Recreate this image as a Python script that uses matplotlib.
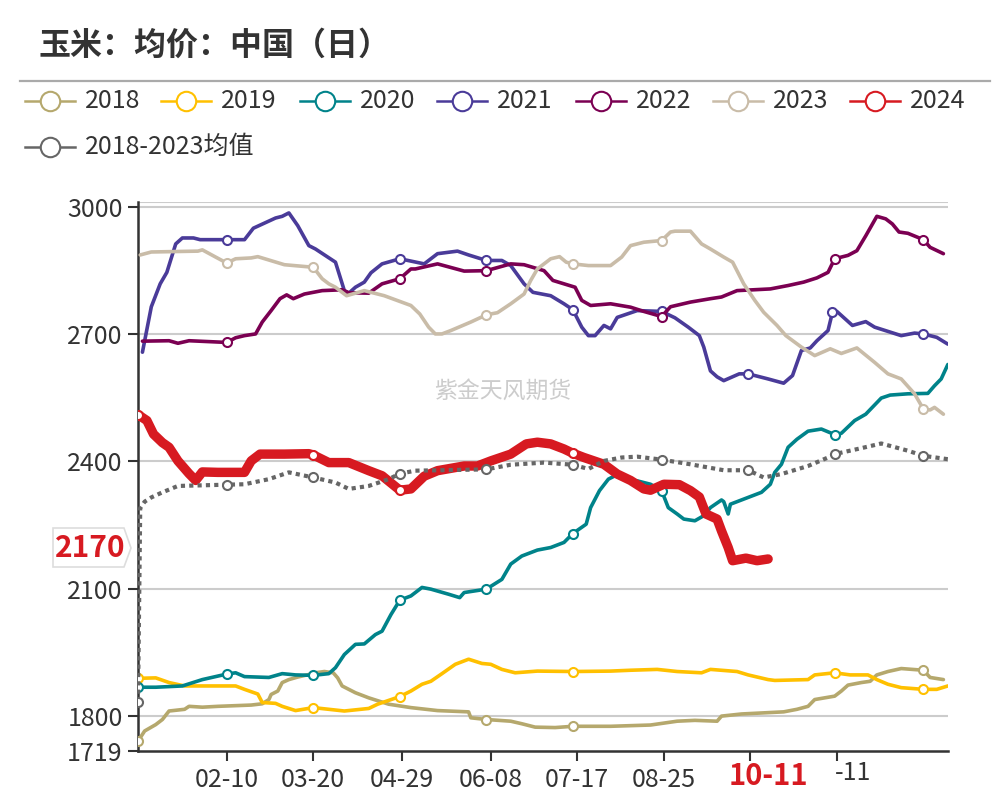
import matplotlib
matplotlib.use("Agg")
import matplotlib.pyplot as plt
import numpy as np
from matplotlib.lines import Line2D
from matplotlib.patches import Polygon
from matplotlib.transforms import blended_transform_factory

plt.rcParams['font.family'] = ['Noto Sans CJK SC', 'DejaVu Sans']

# 数据：横轴为当年1月1日起的天数
days18 = [0, 3, 8, 11, 14, 21, 23, 29, 36, 51, 56, 59, 60, 63, 65, 68, 72, 77, 80, 84, 88, 90, 92, 98, 104,
          113, 123, 135, 149, 150, 157, 168, 173, 179, 188, 196, 213, 231, 243, 251, 261, 263, 272, 291, 297,
          302, 305, 314, 317, 320, 326, 330, 333, 338, 344, 354, 357, 363]
vals18 = [1741, 1765, 1780, 1792, 1812, 1816, 1823, 1821, 1823, 1826, 1829, 1839, 1851, 1859, 1879, 1886, 1892,
          1898, 1902, 1905, 1902, 1890, 1871, 1855, 1843, 1828, 1820, 1813, 1810, 1796, 1792, 1788, 1782, 1774,
          1773, 1776, 1776, 1779, 1788, 1790, 1788, 1800, 1805, 1810, 1816, 1823, 1839, 1847, 1859, 1873, 1879,
          1882, 1897, 1905, 1912, 1908, 1891, 1886]

days19 = [0, 8, 14, 21, 44, 48, 54, 56, 62, 65, 71, 79, 86, 93, 104, 108, 118, 123, 128, 132, 137, 143, 149, 155,
          159, 164, 170, 180, 196, 213, 222, 234, 243, 254, 258, 270, 275, 284, 287, 302, 305, 314, 321, 329, 333,
          338, 344, 354, 360, 365]
vals19 = [1889, 1890, 1879, 1871, 1871, 1863, 1852, 1832, 1830, 1823, 1813, 1820, 1816, 1812, 1818, 1828, 1846,
          1859, 1875, 1882, 1900, 1922, 1934, 1924, 1922, 1910, 1902, 1906, 1905, 1906, 1908, 1910, 1905, 1902,
          1910, 1905, 1897, 1886, 1884, 1886, 1897, 1902, 1897, 1897, 1886, 1875, 1867, 1863, 1863, 1871]

days20 = [0, 8, 20, 29, 40, 44, 48, 59, 65, 71, 79, 86, 89, 93, 98, 102, 107, 110, 114, 118, 123, 128, 132, 140,
          145, 147, 157, 164, 168, 173, 180, 186, 192, 196, 202, 204, 208, 212, 215, 219, 225, 231, 236, 239, 243,
          246, 251, 255, 258, 263, 264, 266, 267, 272, 281, 285, 287, 290, 293, 297, 302, 308, 314, 317, 323, 328,
          335, 339, 347, 356, 359, 362, 365]
vals20 = [1868, 1868, 1871, 1886, 1899, 1902, 1893, 1891, 1900, 1897, 1896, 1900, 1914, 1945, 1969, 1970, 1992,
          2000, 2039, 2073, 2083, 2103, 2099, 2087, 2079, 2091, 2099, 2122, 2158, 2177, 2191, 2197, 2209, 2230,
          2252, 2291, 2331, 2358, 2366, 2358, 2354, 2346, 2331, 2291, 2276, 2264, 2260, 2272, 2291, 2309, 2305,
          2276, 2299, 2309, 2327, 2346, 2374, 2393, 2433, 2452, 2471, 2476, 2463, 2466, 2496, 2511, 2549, 2556,
          2559, 2560, 2578, 2594, 2628]

days21 = [2, 6, 10, 13, 17, 20, 25, 28, 40, 48, 52, 62, 65, 68, 72, 77, 80, 89, 93, 95, 98, 102, 105, 110, 118,
          129, 135, 144, 149, 157, 164, 168, 174, 178, 186, 192, 196, 200, 203, 206, 210, 213, 216, 225, 236, 242,
          248, 253, 255, 258, 261, 264, 271, 275, 284, 291, 295, 299, 303, 306, 311, 313, 315, 322, 328, 332, 344,
          350, 354, 360, 365]
vals21 = [2657, 2764, 2818, 2845, 2912, 2926, 2926, 2922, 2922, 2922, 2949, 2973, 2977, 2985, 2955, 2908, 2900,
          2869, 2802, 2796, 2810, 2822, 2844, 2865, 2877, 2865, 2889, 2895, 2886, 2873, 2873, 2861, 2818, 2798,
          2790, 2771, 2757, 2716, 2696, 2696, 2720, 2712, 2739, 2755, 2753, 2738, 2716, 2696, 2669, 2613, 2599,
          2590, 2606, 2606, 2594, 2584, 2602, 2661, 2667, 2684, 2708, 2751, 2753, 2720, 2729, 2716, 2696, 2702,
          2700, 2692, 2676]

days22 = [2, 14, 18, 23, 40, 44, 48, 53, 56, 60, 64, 67, 70, 75, 83, 92, 95, 104, 110, 118, 123, 125, 135, 147,
          157, 168, 174, 183, 187, 197, 200, 204, 213, 222, 228, 236, 240, 249, 258, 263, 270, 285, 293, 300, 306,
          311, 314, 320, 324, 328, 333, 337, 340, 343, 347, 354, 357, 363]
vals22 = [2683, 2684, 2678, 2684, 2680, 2691, 2696, 2700, 2728, 2755, 2783, 2792, 2783, 2794, 2802, 2804, 2797,
          2796, 2818, 2830, 2853, 2853, 2865, 2848, 2849, 2865, 2863, 2849, 2826, 2810, 2779, 2767, 2771, 2763,
          2753, 2741, 2764, 2775, 2783, 2787, 2802, 2806, 2814, 2822, 2832, 2845, 2877, 2885, 2896, 2931, 2977,
          2971, 2959, 2940, 2937, 2922, 2904, 2889]

days23 = [1, 6, 27, 29, 35, 40, 44, 51, 54, 66, 79, 83, 86, 89, 94, 102, 111, 123, 127, 131, 134, 137, 141, 150,
          157, 162, 168, 174, 177, 180, 186, 190, 193, 196, 203, 213, 218, 222, 228, 236, 240, 242, 249, 254, 258,
          264, 268, 273, 278, 282, 288, 292, 299, 305, 312, 317, 324, 332, 338, 344, 350, 354, 357, 359, 363]
vals23 = [2886, 2893, 2895, 2898, 2881, 2867, 2877, 2879, 2882, 2863, 2857, 2830, 2818, 2810, 2790, 2802, 2790,
          2767, 2747, 2716, 2700, 2700, 2708, 2728, 2745, 2750, 2771, 2794, 2826, 2853, 2877, 2882, 2869, 2865,
          2861, 2861, 2881, 2908, 2916, 2920, 2940, 2942, 2942, 2912, 2900, 2881, 2869, 2818, 2779, 2751, 2720,
          2696, 2669, 2649, 2665, 2654, 2667, 2633, 2606, 2594, 2559, 2523, 2521, 2527, 2511]

days24 = [0, 4, 7, 11, 14, 18, 23, 26, 29, 36, 48, 51, 55, 66, 77, 79, 86, 95, 104, 110, 118, 123, 129, 135, 147,
          153, 159, 168, 175, 180, 186, 192, 196, 201, 210, 216, 222, 228, 231, 237, 244, 249, 253, 256, 261, 263,
          266, 268, 274, 279, 284]
vals24 = [2510, 2496, 2464, 2444, 2433, 2401, 2371, 2355, 2375, 2374, 2374, 2401, 2417, 2417, 2418, 2415, 2397,
          2397, 2378, 2366, 2332, 2335, 2365, 2378, 2389, 2389, 2401, 2417, 2441, 2445, 2441, 2429, 2419, 2409,
          2393, 2370, 2355, 2335, 2332, 2346, 2345, 2331, 2316, 2276, 2264, 2236, 2197, 2166, 2172, 2166, 2170]

days_avg = [0, 1, 3, 6, 11, 18, 40, 48, 59, 68, 79, 89, 95, 104, 113, 118, 125, 157, 168, 183, 196, 203, 210, 218,
            225, 236, 249, 264, 275, 282, 290, 302, 311, 314, 326, 335, 347, 354, 365]
vals_avg = [1833, 2290, 2305, 2315, 2327, 2342, 2345, 2346, 2358, 2374, 2362, 2350, 2335, 2342, 2358, 2371, 2378,
            2381, 2392, 2397, 2392, 2382, 2401, 2409, 2411, 2404, 2393, 2379, 2379, 2362, 2370, 2389, 2409, 2417,
            2431, 2442, 2425, 2413, 2405]

tick_days = [40, 79, 119, 159, 198, 237, 276, 315]
tick_labels = ['02-10', '03-20', '04-29', '06-08', '07-17', '08-25', '', '']
last_day = 284
last_label = '10-11'
last_value = 2170

# 每条线上的空心圆点位置（天）
series = [
    ('2018', days18, vals18, '#b5a86d', [0, 157, 196, 354]),
    ('2019', days19, vals19, '#ffc000', [0, 79, 118, 196, 314, 354]),
    ('2020', days20, vals20, '#00838a', [0, 40, 79, 118, 157, 196, 236, 314]),
    ('2021', days21, vals21, '#4a3b99', [40, 118, 157, 196, 236, 275, 314, 354]),
    ('2022', days22, vals22, '#7b0052', [40, 118, 157, 236, 314, 354]),
    ('2023', days23, vals23, '#c9bca8', [40, 79, 157, 196, 236, 354]),
    ('2024', days24, vals24, '#d71a21', [0, 79, 118, 196]),
]

W, H = 1008, 800
FS = 18


def fx(x):
    return x / W


def fy(y):
    return 1 - y / H


fig = plt.figure(figsize=(10.08, 8), dpi=100)
ax = fig.add_axes([fx(138), fy(750.5), fx(948.5) - fx(138), fy(202.3) - fy(750.5)])


def marker_idx(days, mdays):
    d = np.array(days)
    return [int(np.argmin(np.abs(d - m))) for m in mdays]


for name, d, v, c, md in series:
    lw = 6.8 if name == '2024' else 2.6
    ax.plot(d, v, color=c, lw=lw, solid_joinstyle='round', solid_capstyle='round',
            marker='o', markevery=marker_idx(d, md), ms=6.5, mfc='white', mec=c, mew=1.5,
            zorder=3)

ax.plot(days_avg, vals_avg, color='#666666', lw=3, linestyle=(0, (1, 1)),
        marker='o', markevery=marker_idx(days_avg, [0, 40, 79, 118, 157, 196, 236, 275, 314, 354]),
        ms=6.5, mfc='white', mec='#666666', mew=1.5, zorder=4)

# 网格线
for g in [1800, 2100, 2400, 2700, 3000, 3010]:
    ax.axhline(g, color='#cccccc', lw=1.5, zorder=1)

ax.set_xlim(0, 365.3)
ax.set_ylim(1719, 3010)
ax.set_yticks([1719, 1800, 2100, 2400, 2700, 3000])
ax.set_xticks(tick_days)
ax.set_xticklabels(tick_labels)
for s in ['top', 'right']:
    ax.spines[s].set_visible(False)
for s in ['left', 'bottom']:
    ax.spines[s].set_color('#333333')
    ax.spines[s].set_linewidth(1.8)
ax.tick_params(axis='both', colors='#333333', length=7, width=1.5, labelsize=FS)
ax.tick_params(axis='y', pad=4)
ax.tick_params(axis='x', pad=5)

# 最新日期与数值标注
bt = blended_transform_factory(ax.transData, fig.transFigure)
ax.text(last_day, fy(776), last_label, transform=bt, color='#d71a21', fontsize=21,
        fontweight='bold', ha='center', va='center')
ax.text(314.3, fy(773), '-11', transform=bt, color='#333333', fontsize=FS, ha='left', va='center')

poly = Polygon([(fx(53), fy(528)), (fx(124), fy(528)), (fx(131), fy(548)), (fx(124), fy(567)),
                (fx(53), fy(567))], closed=True, transform=fig.transFigure,
               facecolor='white', edgecolor='#dddddd', lw=1.2)
fig.add_artist(poly)
fig.text(fx(90), fy(548), str(last_value), color='#d71a21', fontsize=21.5, fontweight='bold',
         ha='center', va='center')

# 水印
ax.text(0.45, 0.655, '紫金天风期货', transform=ax.transAxes, color='#cccccc', fontsize=16.5,
        ha='center', va='center', zorder=0)

# 标题与分隔线
fig.text(fx(38), fy(46), '玉米：均价：中国（日）', fontsize=23, fontweight='bold', color='#333333',
         va='center', ha='left')
fig.add_artist(Line2D([fx(20), fx(990)], [fy(80.7), fy(80.7)], color='#aaaaaa', lw=1.6))

# 图例
leg_pos = [(24.5, 101), (161, 101), (300, 101), (437, 101), (575.5, 101), (713, 101), (850, 101)]
for (name, d, v, c, md), (lx, ly) in zip(series, leg_pos):
    fig.add_artist(Line2D([fx(lx), fx(lx + 50)], [fy(ly), fy(ly)], color=c, lw=1.8))
    fig.add_artist(Line2D([fx(lx + 25)], [fy(ly)], marker='o', ms=14, mfc='white', mec=c, mew=1.5))
    fig.text(fx(lx + 60), fy(ly), name, fontsize=FS, color='#333333', va='center', ha='left')
fig.add_artist(Line2D([fx(24.5), fx(74.5)], [fy(147), fy(147)], color='#666666', lw=1.8))
fig.add_artist(Line2D([fx(49.5)], [fy(147)], marker='o', ms=14, mfc='white', mec='#666666', mew=1.5))
fig.text(fx(84.5), fy(147), '2018-2023均值', fontsize=FS, color='#333333', va='center', ha='left')

fig.savefig('out.png', dpi=100)
